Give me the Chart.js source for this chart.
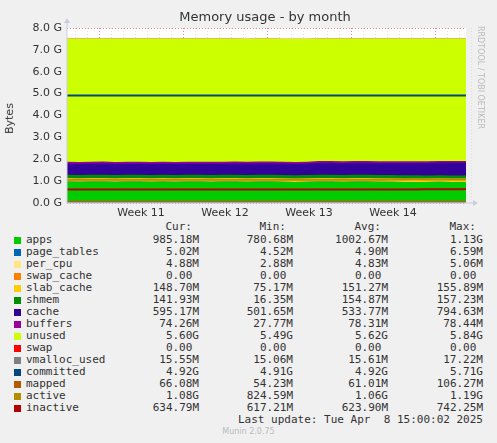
<!DOCTYPE html>
<html><head><meta charset="utf-8">
<script src="https://cdn.jsdelivr.net/npm/chart.js@4"></script>
<style>
body{margin:0;background:#f0f0f0;width:497px;height:443px;overflow:hidden;position:relative;font-family:"DejaVu Sans",sans-serif}
#c{position:absolute;left:0;top:0}
.t{position:absolute;white-space:pre;font-family:"DejaVu Sans Mono",monospace;font-size:11px;color:#333;line-height:12px}
.sw{position:absolute;width:7px;height:7px}
</style></head><body>
<canvas id="c" width="497" height="220"></canvas>
<div style="position:absolute;left:0;width:530px;top:9px;text-align:center;font-size:13px;color:#333">Memory usage - by month</div>
<div style="position:absolute;left:-6px;top:112px;transform:rotate(-90deg);font-size:11px;color:#333">Bytes</div>
<div style="position:absolute;left:485px;top:26px;transform-origin:0 0;transform:rotate(90deg);font-size:8px;color:#bbb;white-space:nowrap">RRDTOOL / TOBI OETIKER</div>
<div id="leg"></div>
<script>
const days=[0,1,2,3,4,5,6,7,8,9,10,11,12,13,14,15,16,17,18,19,20,21,22,23,24,25,26,27,28,29,30,31,32,33,33.25];
const apps=[0.98,0.97,0.98,0.98,0.97,0.98,0.98,0.97,0.98,0.97,0.98,0.98,0.97,0.98,0.98,0.97,0.98,0.98,0.97,0.96,0.97,0.98,0.98,0.97,0.98,0.98,0.97,0.97,0.96,0.96,0.96,0.97,0.96,0.96,0.96];
const page_tables=Array(35).fill(0.005);
const per_cpu=Array(35).fill(0.005);
const swap_cache=Array(35).fill(0);
const slab_cache=[0.15,0.15,0.15,0.15,0.15,0.15,0.15,0.15,0.15,0.15,0.15,0.15,0.15,0.15,0.15,0.15,0.15,0.15,0.15,0.15,0.15,0.15,0.15,0.15,0.15,0.15,0.15,0.15,0.15,0.15,0.15,0.15,0.15,0.15,0.15];
const shmem=[0.15,0.15,0.15,0.15,0.15,0.15,0.15,0.15,0.15,0.15,0.15,0.15,0.15,0.15,0.15,0.15,0.15,0.15,0.15,0.15,0.15,0.15,0.15,0.15,0.15,0.15,0.15,0.15,0.15,0.15,0.14,0.14,0.14,0.14,0.14];
const cache=[0.52,0.52,0.52,0.53,0.52,0.52,0.52,0.52,0.52,0.52,0.52,0.52,0.53,0.52,0.53,0.53,0.53,0.53,0.53,0.53,0.53,0.55,0.55,0.55,0.55,0.55,0.55,0.55,0.56,0.56,0.57,0.58,0.59,0.59,0.59];
const buffers=Array(35).fill(0.075);
const unused=[5.63,5.64,5.63,5.62,5.64,5.63,5.63,5.64,5.63,5.64,5.63,5.63,5.63,5.63,5.62,5.62,5.62,5.62,5.62,5.63,5.62,5.60,5.60,5.61,5.60,5.60,5.61,5.61,5.61,5.61,5.61,5.59,5.59,5.60,5.60];
const swap=Array(35).fill(0);
const vmalloc_used=Array(35).fill(0.0155);
const committed=Array(35).fill(4.92);
const mapped=Array(35).fill(0.06);
const active=[1.06,1.06,1.06,1.06,1.06,1.06,1.06,1.06,1.06,1.06,1.06,1.06,1.06,1.06,1.06,1.06,1.06,1.06,1.06,1.06,1.06,1.06,1.06,1.06,1.06,1.06,1.06,1.07,1.07,1.08,1.08,1.08,1.08,1.08,1.08];
const inactive=[0.62,0.62,0.62,0.62,0.62,0.62,0.62,0.62,0.62,0.62,0.62,0.62,0.62,0.62,0.62,0.62,0.62,0.62,0.62,0.62,0.62,0.62,0.62,0.62,0.62,0.62,0.62,0.62,0.62,0.62,0.63,0.63,0.63,0.63,0.64];
const weekLabels=["Week 11","Week 12","Week 13","Week 14"];
const weekMids=[6.17,13.17,20.17,27.17];
const weekBounds=[2.67,9.67,16.67,23.67,30.67];
const yTicks=[0,1,2,3,4,5,6,7,8];

const legendRows=[
["apps","#00cc00","985.18M","780.68M","1002.67M","1.13G"],
["page_tables","#0066b3","5.02M","4.52M","4.90M","6.59M"],
["per_cpu","#ffe680","4.88M","2.88M","4.83M","5.06M"],
["swap_cache","#ff8000","0.00 ","0.00 ","0.00 ","0.00 "],
["slab_cache","#ffcc00","148.70M","75.17M","151.27M","155.89M"],
["shmem","#008f00","141.93M","16.35M","154.87M","157.23M"],
["cache","#330099","595.17M","501.65M","533.77M","794.63M"],
["buffers","#990099","74.26M","27.77M","78.31M","78.44M"],
["unused","#ccff00","5.60G","5.49G","5.62G","5.84G"],
["swap","#ff0000","0.00 ","0.00 ","0.00 ","0.00 "],
["vmalloc_used","#808080","15.55M","15.06M","15.61M","17.22M"],
["committed","#00487d","4.92G","4.91G","4.92G","5.71G"],
["mapped","#b35a00","66.08M","54.23M","61.01M","106.27M"],
["active","#b38f00","1.08G","824.59M","1.06G","1.19G"],
["inactive","#b30000","634.79M","617.21M","623.90M","742.25M"]];

const pts=a=>a.map((v,i)=>({x:days[i],y:v}));
const area=(l,d,c)=>({label:l,data:pts(d),backgroundColor:c,borderColor:c,borderWidth:0,fill:true,stack:'m',pointRadius:0,tension:0,order:2});
const line=(l,d,c,s)=>({label:l,data:pts(d),borderColor:c,borderWidth:2,fill:false,stack:s,pointRadius:0,tension:0,order:1});
const ds=[area('apps',apps,'#00cc00'),area('page_tables',page_tables,'#0066b3'),area('per_cpu',per_cpu,'#ffe680'),area('swap_cache',swap_cache,'#ff8000'),area('slab_cache',slab_cache,'#ffcc00'),area('shmem',shmem,'#008f00'),area('cache',cache,'#330099'),area('buffers',buffers,'#990099'),area('unused',unused,'#ccff00'),area('swap',swap,'#ff0000'),
line('vmalloc_used',vmalloc_used,'#808080','a'),line('committed',committed,'#00487d','b'),line('mapped',mapped,'#b35a00','c'),line('active',active,'#b38f00','d'),line('inactive',inactive,'#b30000','e')];

const grid={id:'grid',beforeDatasetsDraw(ch){const c=ch.ctx,a=ch.chartArea,x=ch.scales.x,y=ch.scales.y;c.save();c.fillStyle='#fff';c.fillRect(a.left,a.top,a.right-a.left,a.bottom-a.top);c.lineWidth=1;c.setLineDash([1,2]);
c.strokeStyle='#ddd';for(let d=Math.ceil(x.min*1)/1;d<=x.max;d++){const p=Math.round(x.getPixelForValue(d+0.67))+0.5;c.beginPath();c.moveTo(p,a.top);c.lineTo(p,a.bottom);c.stroke();}
for(let v=0.5;v<8;v+=1){const p=Math.round(y.getPixelForValue(v))+0.5;c.beginPath();c.moveTo(a.left,p);c.lineTo(a.right,p);c.stroke();}
c.strokeStyle='#f08080';weekBounds.forEach(d=>{const p=Math.round(x.getPixelForValue(d))+0.5;c.beginPath();c.moveTo(p,a.top);c.lineTo(p,a.bottom);c.stroke();});
yTicks.forEach(v=>{const p=Math.round(y.getPixelForValue(v))+0.5;c.beginPath();c.moveTo(a.left,p);c.lineTo(a.right,p);c.stroke();});c.restore();},
afterDatasetsDraw(ch){const c=ch.ctx,a=ch.chartArea,x=ch.scales.x,y=ch.scales.y;c.save();c.fillStyle='#333';c.font='11px "DejaVu Sans"';c.textAlign='right';c.textBaseline='middle';
yTicks.forEach(v=>c.fillText(v.toFixed(1)+' G',a.left-5,y.getPixelForValue(v)));
c.textAlign='center';weekLabels.forEach((l,i)=>c.fillText(l,x.getPixelForValue(weekMids[i]),a.bottom+10));
c.strokeStyle='#ccd';c.fillStyle='#ccd';c.beginPath();c.moveTo(a.left,a.bottom);c.lineTo(a.right+10,a.bottom);c.moveTo(a.left,a.bottom);c.lineTo(a.left,a.top-8);c.stroke();
c.beginPath();c.moveTo(a.right+12,a.bottom);c.lineTo(a.right+7,a.bottom-3);c.lineTo(a.right+7,a.bottom+3);c.fill();
c.beginPath();c.moveTo(a.left,a.top-10);c.lineTo(a.left-3,a.top-5);c.lineTo(a.left+3,a.top-5);c.fill();c.restore();}};

new Chart(document.getElementById('c'),{type:'line',data:{datasets:ds},plugins:[grid],
options:{responsive:false,animation:false,layout:{padding:{left:67,top:28,right:31,bottom:17}},
plugins:{legend:{display:false},tooltip:{enabled:false}},
scales:{x:{type:'linear',min:0,max:33.25,display:false},y:{stacked:true,min:0,max:8,display:false}}}});

const L=document.getElementById('leg');
function txt(s,x,y,align,col){const d=document.createElement('div');d.className='t';d.textContent=s;d.style.top=(y-6)+'px';if(align==='r'){d.style.right=(497-x)+'px';}else d.style.left=x+'px';if(col)d.style.color=col;L.appendChild(d);}
const rights=[199,293,388,483];
["Cur:","Min:","Avg:","Max:"].forEach((h,i)=>txt(h,rights[i]-7,227,'r'));
legendRows.forEach((r,i)=>{const y=240+12*i;const s=document.createElement('div');s.className='sw';s.style.left='14px';s.style.top=(y-3)+'px';s.style.background=r[1];L.appendChild(s);
txt(r[0],26,y);for(let k=0;k<4;k++)txt(r[2+k],rights[k],y,'r');});
txt("Last update: Tue Apr  8 15:00:02 2025",483,420,'r');
const m=document.createElement('div');m.style.cssText='position:absolute;left:0;width:497px;top:427px;text-align:center;font-size:8px;color:#bbb';m.textContent='Munin 2.0.75';L.appendChild(m);
</script></body></html>
